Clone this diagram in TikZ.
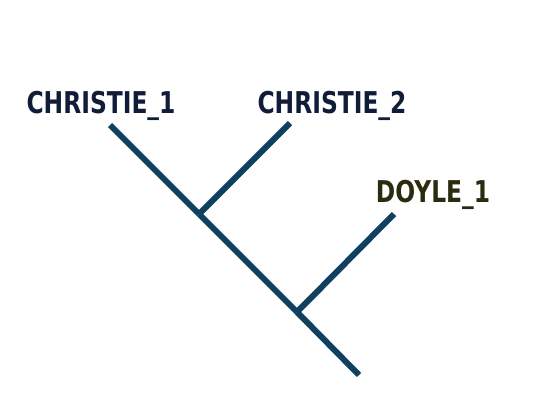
\documentclass[tikz,border=0pt]{standalone}
\usepackage{fontspec}
\usepackage{xcolor}
\usepackage{tikz}
\newfontfamily\treefont[FakeStretch=0.78]{DejaVu Sans}
\definecolor{branchBlue}{HTML}{0F405F}
\definecolor{leafNavy}{HTML}{101C38}
\definecolor{leafOlive}{HTML}{2B2B0F}
\tikzset{
    treeBranch/.style={
        draw=branchBlue,
        line width=6pt
    },
    treeLeaf/.style={
        anchor=base,
        inner sep=0pt,
        text=leafNavy,
        font=\treefont\bfseries\fontsize{30}{30}\selectfont
    }
}
\begin{document}
\begin{tikzpicture}[x=1pt,y=-1pt]
        \useasboundingbox (0,0) rectangle (533,400);
        % leaves
        \node[treeLeaf] (christieA) at (101,113) {CHRISTIE\_1};
        \node[treeLeaf] (christieB) at (332,113) {CHRISTIE\_2};
        \node[treeLeaf,text=leafOlive] (doyleA) at (433,202) {DOYLE\_1};

        % branch points
        \coordinate (christieAtip) at (110,125);
        \coordinate (christieBtip) at (290,123);
        \coordinate (doyleAtip) at (394,214);
        \coordinate (innerA) at (199,214);
        \coordinate (innerB) at (297,312);
        \coordinate (rootEnd) at (359,375);

        \draw[treeBranch] (christieAtip) -- (innerA);
        \draw[treeBranch] (christieBtip) -- (innerA);
        \draw[treeBranch] (innerA) -- (innerB);
        \draw[treeBranch] (doyleAtip) -- (innerB);
        \draw[treeBranch] (innerB) -- (rootEnd);
    \end{tikzpicture}
\end{document}
